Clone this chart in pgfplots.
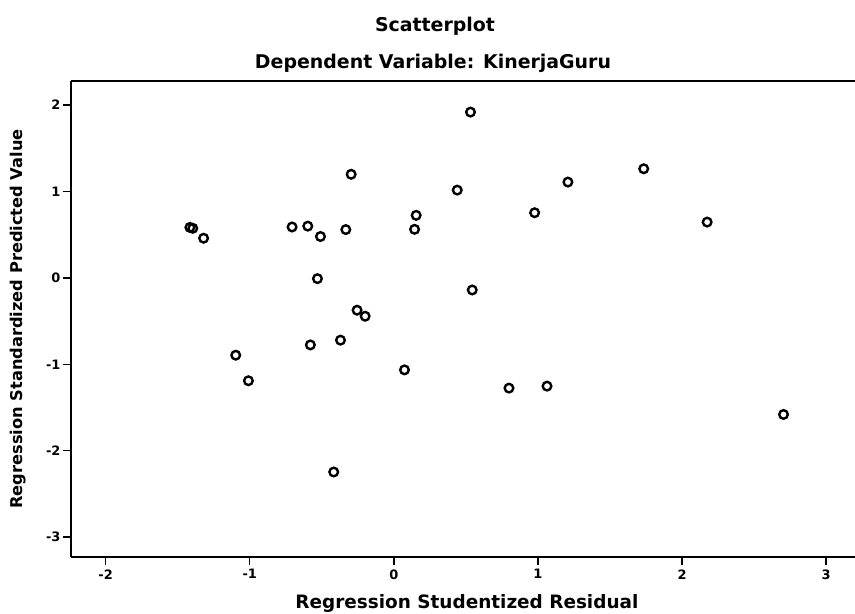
\documentclass[border=0pt]{standalone}
\usepackage{pgfplots}
\pgfplotsset{compat=1.18}
\usepackage{fontspec}
\setmainfont{DejaVu Sans}
\usetikzlibrary{calc}
\begin{document}
\begin{tikzpicture}
\begin{axis}[name=ax,
  scale only axis, width=784bp, height=476bp,
  xmin=-2.24, xmax=3.2, ymin=-3.23, ymax=2.28,
  axis x line=box, axis y line=left,
  x axis line style={-}, y axis line style={-},
  xtick={-2,-1,0,1,2,3}, ytick={-3,-2,-1,0,1,2},
  axis line style={line width=1.8bp},
  tick align=outside, major tick length=8bp,
  tick style={line width=1.4bp, black},
  xtick pos=bottom, ytick pos=left,
  /pgf/number format/assume math mode=true,
  tick label style={font=\fontsize{13}{15}\selectfont\bfseries},
  yticklabel style={anchor=east, xshift=1bp},
  xticklabel style={anchor=north, yshift=-1bp},
  xlabel={Regression Studentized Residual},
  ylabel={Regression Standardized Predicted Value},
  xlabel style={font=\fontsize{18.5}{21}\selectfont\bfseries, at={(axis description cs:0.505,0)}, anchor=center, yshift=-46bp},
  ylabel style={font=\fontsize{16.3}{19}\selectfont\bfseries, at={(axis description cs:0,0.5)}, anchor=center, xshift=0bp, yshift=53bp},
  clip=false,
]
\addplot[only marks, mark=o, mark size=4.3bp, line width=2.4bp, black] coordinates {
(-1.415,0.585) (-1.395,0.575) (-1.32,0.46)
(-0.706,0.59) (-0.597,0.60) (-0.509,0.48) (-0.333,0.56) (-0.296,1.20)
(0.155,0.725) (0.144,0.563) (0.44,1.017) (-0.53,-0.008)
(-0.255,-0.373) (-0.199,-0.443) (-0.579,-0.775) (-0.37,-0.72)
(-1.097,-0.894) (0.074,-1.064) (-1.009,-1.19) (-0.417,-2.246)
(0.532,1.92) (1.734,1.264) (1.208,1.11) (0.977,0.755) (2.174,0.647)
(0.544,-0.139) (0.799,-1.275) (1.063,-1.252) (2.704,-1.58)
};
\end{axis}
\node[font=\fontsize{19}{21}\selectfont\bfseries] at ($(ax.north west)+(364bp,55bp)$) {Scatterplot};
\node[font=\fontsize{19}{21}\selectfont\bfseries] at ($(ax.north west)+(362bp,18bp)$) {Dependent Variable: KinerjaGuru};
\pgfresetboundingbox
\path[use as bounding box] ($(ax.south west)+(-71bp,-57bp)$) rectangle ($(ax.north east)+(0,81bp)$);
\end{tikzpicture}
\end{document}
